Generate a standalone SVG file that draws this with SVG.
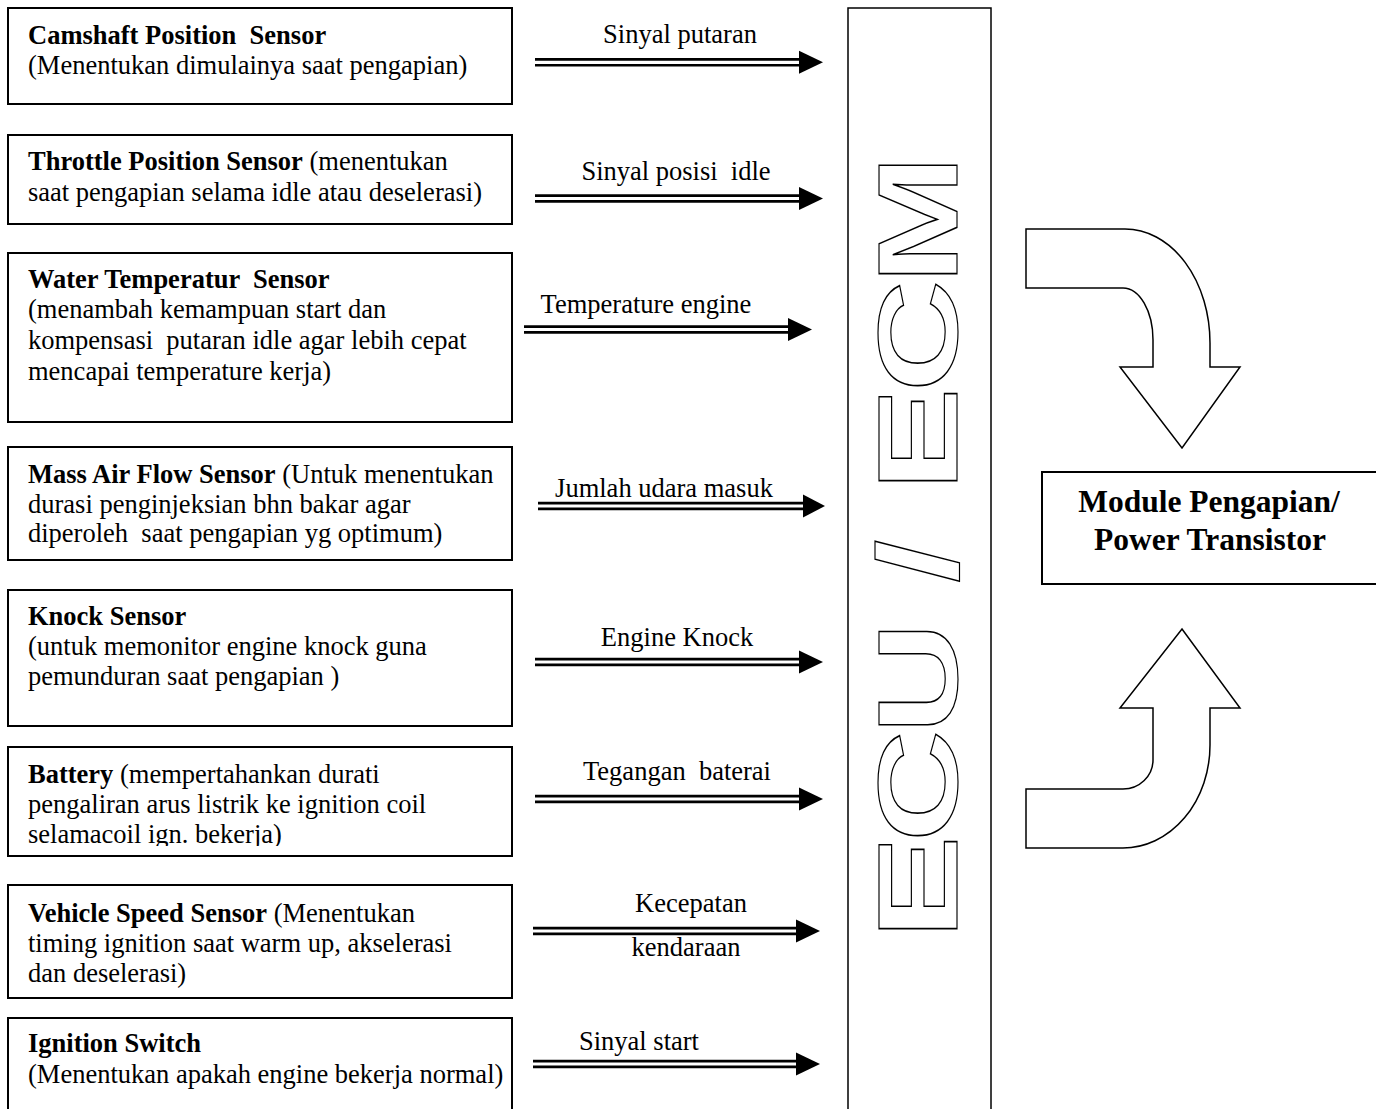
<svg xmlns="http://www.w3.org/2000/svg" width="1376" height="1109" viewBox="0 0 1376 1109">
<style>
  .box { fill: #fff; stroke: #000; stroke-width: 2; }
  .t { font-family: "Liberation Serif", "Times New Roman", serif; font-size: 26.5px; fill: #000; white-space: pre; }
  .b { font-weight: bold; }
  .lbl { font-family: "Liberation Serif", "Times New Roman", serif; font-size: 26.5px; fill: #000; text-anchor: middle; white-space: pre; }
  .mod { font-family: "Liberation Serif", "Times New Roman", serif; font-size: 31.5px; font-weight: bold; fill: #000; text-anchor: middle; }
  .dl { stroke: #000; stroke-width: 2.6; fill: none; }
  .head { fill: #000; }
  .ecu { font-family: "Liberation Sans", Arial, sans-serif; font-weight: bold; font-size: 114px; fill: #fff; stroke: #000; stroke-width: 1.4; white-space: pre; }
  .bend { fill: #fff; stroke: #000; stroke-width: 1.5; stroke-linejoin: miter; }
</style>
<defs>
  <clipPath id="clipBattery"><rect x="0" y="747" width="520" height="99"/></clipPath>
</defs>
<rect width="1376" height="1109" fill="#fff"/>

<g id="node-camshaft">
  <rect class="box" x="8" y="8" width="504" height="96"/>
  <text class="t b" x="28" y="44">Camshaft Position  Sensor</text>
  <text class="t" x="28" y="74">(Menentukan dimulainya saat pengapian)</text>
</g>
<g id="node-throttle">
  <rect class="box" x="8" y="135" width="504" height="89"/>
  <text class="t" x="28" y="170"><tspan class="b">Throttle Position Sensor</tspan> (menentukan</text>
  <text class="t" x="28" y="201">saat pengapian selama idle atau deselerasi)</text>
</g>
<g id="node-water">
  <rect class="box" x="8" y="253" width="504" height="169"/>
  <text class="t b" x="28" y="288">Water Temperatur  Sensor</text>
  <text class="t" x="28" y="318">(menambah kemampuan start dan</text>
  <text class="t" x="28" y="349">kompensasi  putaran idle agar lebih cepat</text>
  <text class="t" x="28" y="380">mencapai temperature kerja)</text>
</g>
<g id="node-maf">
  <rect class="box" x="8" y="447" width="504" height="113"/>
  <text class="t" x="28" y="483"><tspan class="b">Mass Air Flow Sensor</tspan> (Untuk menentukan</text>
  <text class="t" x="28" y="513">durasi penginjeksian bhn bakar agar</text>
  <text class="t" x="28" y="542">diperoleh  saat pengapian yg optimum)</text>
</g>
<g id="node-knock">
  <rect class="box" x="8" y="590" width="504" height="136"/>
  <text class="t b" x="28" y="625">Knock Sensor</text>
  <text class="t" x="28" y="655">(untuk memonitor engine knock guna</text>
  <text class="t" x="28" y="685">pemunduran saat pengapian )</text>
</g>
<g id="node-battery">
  <rect class="box" x="8" y="747" width="504" height="109"/>
  <g clip-path="url(#clipBattery)">
    <text class="t" x="28" y="783"><tspan class="b">Battery</tspan> (mempertahankan durati</text>
    <text class="t" x="28" y="813">pengaliran arus listrik ke ignition coil</text>
    <text class="t" x="28" y="843">selamacoil ign. bekerja)</text>
  </g>
</g>
<g id="node-vss">
  <rect class="box" x="8" y="885" width="504" height="113"/>
  <text class="t" x="28" y="922"><tspan class="b">Vehicle Speed Sensor</tspan> (Menentukan</text>
  <text class="t" x="28" y="952">timing ignition saat warm up, akselerasi</text>
  <text class="t" x="28" y="982">dan deselerasi)</text>
</g>
<g id="node-ignition">
  <rect class="box" x="8" y="1018" width="504" height="110"/>
  <text class="t b" x="28" y="1052">Ignition Switch</text>
  <text class="t" x="28" y="1083">(Menentukan apakah engine bekerja normal)</text>
</g>

<g id="node-ecu">
  <rect x="848" y="8" width="143" height="1120" fill="#fff" stroke="#000" stroke-width="1.5"/>
  <text class="ecu" vector-effect="non-scaling-stroke" transform="translate(957,939) rotate(-90) scale(1.36,1)" x="0 71.3 150.7 233 262 291.7 329.4 402.2 481.6" y="0">ECU / ECM</text>
</g>

<g id="node-module">
  <rect class="box" x="1042" y="472" width="340" height="112"/>
  <text class="mod" x="1209" y="512">Module Pengapian/</text>
  <text class="mod" x="1210" y="550">Power Transistor</text>
</g>

<g id="connectors">
  <line class="dl" x1="535" y1="59.4" x2="801" y2="59.4"/><line class="dl" x1="535" y1="65.2" x2="801" y2="65.2"/>
  <polygon class="head" points="799,50.8 823,62.3 799,73.8"/>
  <line class="dl" x1="535" y1="195.6" x2="801" y2="195.6"/><line class="dl" x1="535" y1="201.4" x2="801" y2="201.4"/>
  <polygon class="head" points="799,187 823,198.5 799,210"/>
  <line class="dl" x1="524" y1="326.6" x2="790" y2="326.6"/><line class="dl" x1="524" y1="332.4" x2="790" y2="332.4"/>
  <polygon class="head" points="788,318 812,329.5 788,341"/>
  <line class="dl" x1="538" y1="503.1" x2="805" y2="503.1"/><line class="dl" x1="538" y1="508.9" x2="805" y2="508.9"/>
  <polygon class="head" points="803,494.5 825,506 803,517.5"/>
  <line class="dl" x1="535" y1="659.1" x2="801" y2="659.1"/><line class="dl" x1="535" y1="664.9" x2="801" y2="664.9"/>
  <polygon class="head" points="799,650.5 823,662 799,673.5"/>
  <line class="dl" x1="535" y1="796.1" x2="801" y2="796.1"/><line class="dl" x1="535" y1="801.9" x2="801" y2="801.9"/>
  <polygon class="head" points="799,787.5 823,799 799,810.5"/>
  <line class="dl" x1="533" y1="928.1" x2="798" y2="928.1"/><line class="dl" x1="533" y1="933.9" x2="798" y2="933.9"/>
  <polygon class="head" points="796,919.5 820,931 796,942.5"/>
  <line class="dl" x1="533" y1="1061.1" x2="798" y2="1061.1"/><line class="dl" x1="533" y1="1066.9" x2="798" y2="1066.9"/>
  <polygon class="head" points="796,1052.5 820,1064 796,1075.5"/>

  <text class="lbl" x="680" y="43">Sinyal putaran</text>
  <text class="lbl" x="676" y="180">Sinyal posisi  idle</text>
  <text class="lbl" x="646" y="313">Temperature engine</text>
  <text class="lbl" x="664" y="497">Jumlah udara masuk</text>
  <text class="lbl" x="677" y="646">Engine Knock</text>
  <text class="lbl" x="677" y="780">Tegangan  baterai</text>
  <text class="lbl" x="691" y="912">Kecepatan</text>
  <text class="lbl" x="686" y="956">kendaraan</text>
  <text class="lbl" x="639" y="1050">Sinyal start</text>

  <path class="bend" d="M1026,229 H1125 A85,114 0 0 1 1210,343 V367 H1240 L1182,448 L1120,367 H1153 V340 A30,52 0 0 0 1123,288 H1026 Z"/>
  <path class="bend" d="M1182,629 L1240,708 H1210 V745 A87,103 0 0 1 1123,848 H1026 V789 H1123 A30,29 0 0 0 1153,760 V708 H1120 Z"/>
</g>
</svg>
